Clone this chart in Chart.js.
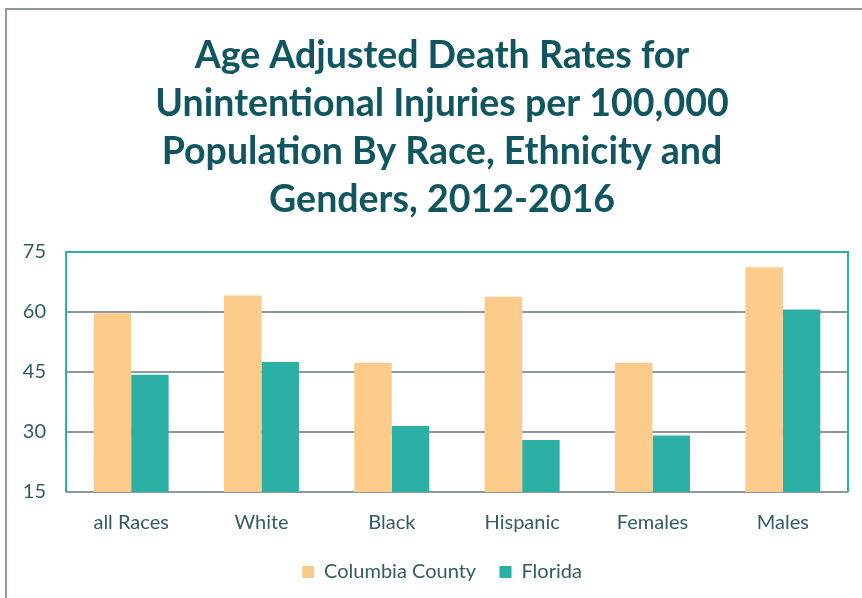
<!DOCTYPE html>
<html>
<head>
<meta charset="utf-8">
<script src="https://cdn.jsdelivr.net/npm/chart.js@4"></script>
<style>
  body { margin: 0; background: #fff; overflow: hidden; }
  .frame {
    position: absolute;
    left: 5px;
    top: 8px;
    width: 880px;
    height: 600px;
    border-left: 2px solid #8e999c;
    border-top: 2px solid #8e999c;
  }
  .wrap { position: absolute; left: 0; top: 0; width: 870px; height: 589px; }
</style>
</head>
<body>
<div class="frame">
  <div class="wrap"><canvas id="myChart"></canvas></div>
</div>
<script>
// chart data
var categories = ["all Races", "White", "Black", "Hispanic", "Females", "Males"];
var columbiaCounty = [59.7, 64.1, 47.3, 63.8, 47.3, 71.2];
var florida = [44.3, 47.5, 31.5, 28.0, 29.1, 60.6];
var yTicks = [15, 30, 45, 60, 75];

var textColor = "#2f5c66";
var gridColor = "#8c999d";
var tealLine = "#2cafa5";

// teal border on top, left and right of the plot area
var plotBorder = {
  id: "plotBorder",
  beforeDatasetsDraw: function (chart) {
    var a = chart.chartArea;
    var c = chart.ctx;
    c.save();
    c.strokeStyle = tealLine;
    c.lineWidth = 2;
    c.beginPath();
    c.moveTo(a.left, a.bottom);
    c.lineTo(a.left, a.top);
    c.lineTo(a.right, a.top);
    c.lineTo(a.right, a.bottom);
    c.stroke();
    c.restore();
  },
};

const ctx = document.getElementById("myChart").getContext("2d");
const myChart = new Chart(ctx, {
  type: "bar",
  data: {
    labels: categories,
    datasets: [
      {
        label: "Columbia County",
        data: columbiaCounty,
        backgroundColor: "#fdcb89",
      },
      {
        label: "Florida",
        data: florida,
        backgroundColor: "#2cafa5",
      },
    ],
  },
  options: {
    responsive: true,
    maintainAspectRatio: false,
    animation: false,
    layout: {
      padding: { left: 0, right: 0, top: 0, bottom: 7 },
    },
    datasets: {
      bar: {
        categoryPercentage: 0.575,
        barPercentage: 1,
      },
    },
    scales: {
      x: {
        grid: { display: false, drawTicks: false },
        border: { display: false },
        ticks: {
          color: textColor,
          padding: 19,
          font: { family: "Lato", size: 20 },
        },
      },
      y: {
        min: 15,
        max: 75,
        afterBuildTicks: function (axis) {
          axis.ticks = yTicks.map(function (v) {
            return { value: v };
          });
        },
        afterFit: function (axis) {
          axis.width = 59;
        },
        grid: {
          drawTicks: false,
          lineWidth: 2,
          color: function (c) {
            return c.tick && c.tick.value === 75 ? "rgba(0,0,0,0)" : gridColor;
          },
        },
        border: { display: false },
        ticks: {
          color: textColor,
          padding: 20,
          font: { family: "Lato", size: 20 },
        },
      },
      // empty right axis, only keeps space so title and legend stay centred
      yRight: {
        position: "right",
        grid: { display: false, drawTicks: false },
        border: { display: false },
        ticks: { display: false },
        afterFit: function (axis) {
          axis.width = 29;
        },
      },
    },
    plugins: {
      title: {
        display: true,
        text: [
          "Age Adjusted Death Rates for",
          "Unintentional Injuries per 100,000",
          "Population By Race, Ethnicity and",
          "Genders, 2012-2016",
        ],
        color: "#0f5660",
        font: { family: "Lato", size: 37.5, weight: "bold", lineHeight: 1.28 },
        padding: { top: 22, bottom: 28 },
      },
      legend: {
        position: "bottom",
        labels: {
          color: textColor,
          boxWidth: 12,
          boxHeight: 12,
          padding: 8,
          font: { family: "Lato", size: 20 },
          // wider gap after the first entry
          generateLabels: function (chart) {
            var items = Chart.defaults.plugins.legend.labels.generateLabels(chart);
            items[0].text = items[0].text + "   ";
            return items;
          },
        },
      },
      tooltip: { enabled: false },
    },
  },
  plugins: [plotBorder],
});
</script>
</body>
</html>
